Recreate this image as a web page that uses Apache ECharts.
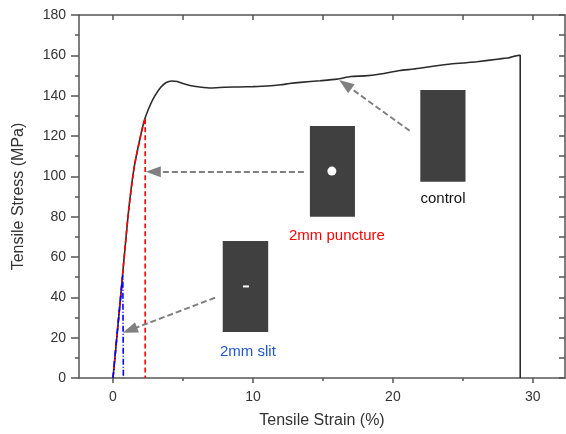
<!DOCTYPE html>
<html>
<head>
<meta charset="utf-8">
<script src="https://cdn.jsdelivr.net/npm/echarts@6/dist/echarts.min.js"></script>
<style>
  html, body { margin: 0; padding: 0; background: #fff; }
  #chart { width: 566px; height: 434px; }
</style>
</head>
<body>
<div id="chart"></div>
<script>
// stress-strain curves, [strain %, stress MPa]
var control = [
  [0, 0], [0.5, 37], [1.07, 80], [1.5, 104], [2.0, 121], [2.3, 129], [2.7, 136],
  [3.0, 140], [3.4, 144], [3.8, 146.5], [4.2, 147.3], [4.6, 147], [5.0, 146],
  [5.5, 145], [6.2, 144.3], [7.0, 143.8], [8.0, 144.2], [9.0, 144.3], [10, 144.5],
  [11, 144.8], [12, 145.4], [12.6, 146], [13.4, 146.6], [14.8, 147.4], [16, 148.2],
  [17, 149.5], [18, 149.8], [19, 150.6], [20.5, 152.5], [21.5, 153.2], [22.5, 154.2],
  [24, 155.6], [25, 156.2], [26, 156.8], [27.6, 158.2], [28.3, 158.8], [29.0, 160],
  [29.1, 160], [29.1, 0]
];
var puncture = [
  [0, 0], [0.5, 37], [1.07, 80], [1.5, 104], [2.0, 121], [2.3, 129], [2.3, 0]
];
var slit = [
  [0, 0], [0.35, 26], [0.7, 51], [0.74, 51], [0.74, 0]
];

var xMajor = [0, 10, 20, 30];
var xMinor = [5, 15, 25];
var yMajor = [0, 20, 40, 60, 80, 100, 120, 140, 160, 180];
var yMinor = [10, 30, 50, 70, 90, 110, 130, 150, 170];

// specimen sketches and arrows (data coords)
var boxes = [
  [[21.96, 142.8], [25.19, 97.3]],
  [[14.07, 124.9], [17.29, 80.0]],
  [[7.84, 67.9], [11.09, 22.8]]
];
var arrows = [
  [[21.2, 122.6], [16.6, 145.6]],
  [[13.64, 102.3], [2.88, 102.3]],
  [[7.29, 39.8], [1.21, 23.8]]
];
var labels = [
  { name: 'control', at: [23.58, 88.6], color: '#111111' },
  { name: '2mm puncture', at: [16.0, 70.4], color: '#ff0000' },
  { name: '2mm slit', at: [9.64, 13.1], color: '#1f55cc' }
];
var hole = [15.64, 102.6];
var cut = [9.5, 45.4];

var axisColor = '#555555';
var labelColor = '#333333';
var font = 'Liberation Sans, Arial, sans-serif';

function hidden() {
  return { show: false };
}
function axisLine() {
  return { onZero: false, lineStyle: { color: axisColor, width: 1.5 } };
}

var chart = echarts.init(document.getElementById('chart'));
var option = {
  animation: false,
  grid: { left: 79, right: 1, top: 15, bottom: 56 },
  xAxis: [
    {
      type: 'value', position: 'bottom', min: -2.43, max: 32.3,
      name: 'Tensile Strain (%)', nameLocation: 'middle', nameGap: 35,
      nameTextStyle: { fontFamily: font, fontSize: 16, color: labelColor },
      axisLine: axisLine(),
      axisTick: { customValues: xMajor, length: 5, lineStyle: { color: axisColor, width: 1.5 } },
      axisLabel: { customValues: xMajor, margin: 12, fontFamily: font, fontSize: 14, color: labelColor },
      splitLine: hidden()
    },
    {
      type: 'value', position: 'bottom', min: -2.43, max: 32.3,
      axisLine: { show: false, onZero: false },
      axisTick: { customValues: xMinor, length: 3, lineStyle: { color: axisColor, width: 1.5 } },
      axisLabel: hidden(), splitLine: hidden()
    },
    {
      type: 'value', position: 'top', min: -2.43, max: 32.3,
      axisLine: axisLine(),
      axisTick: { inside: true, customValues: xMajor.concat(xMinor), length: 5, lineStyle: { color: axisColor, width: 1.5 } },
      axisLabel: hidden(), splitLine: hidden()
    }
  ],
  yAxis: [
    {
      type: 'value', position: 'left', min: 0, max: 180, interval: 20,
      name: 'Tensile Stress (MPa)', nameLocation: 'middle', nameGap: 52,
      nameTextStyle: { fontFamily: font, fontSize: 16, color: labelColor },
      axisLine: axisLine(),
      axisTick: { customValues: yMajor, length: 8, lineStyle: { color: axisColor, width: 1.5 } },
      axisLabel: { customValues: yMajor, margin: 13, fontFamily: font, fontSize: 14, color: labelColor },
      splitLine: hidden()
    },
    {
      type: 'value', position: 'left', min: 0, max: 180,
      axisLine: { show: false, onZero: false },
      axisTick: { customValues: yMinor, length: 4, lineStyle: { color: axisColor, width: 1.5 } },
      axisLabel: hidden(), splitLine: hidden()
    },
    {
      type: 'value', position: 'right', min: 0, max: 180,
      axisLine: axisLine(),
      axisTick: { inside: true, customValues: yMajor.concat(yMinor), length: 6, lineStyle: { color: axisColor, width: 1.5 } },
      axisLabel: hidden(), splitLine: hidden()
    }
  ],
  series: [
    {
      name: 'control', type: 'line', data: control, showSymbol: false, smooth: 0.2,
      lineStyle: { color: '#2b2b2b', width: 1.6 },
      markArea: {
        silent: true,
        itemStyle: { color: '#404040' },
        data: boxes.map(function (b) { return [{ coord: b[0] }, { coord: b[1] }]; })
      },
      markLine: {
        silent: true,
        symbol: ['none', 'triangle'],
        symbolSize: [11, 15],
        label: hidden(),
        lineStyle: { color: '#808080', width: 2, type: [6, 3] },
        data: arrows.map(function (a) { return [{ coord: a[0] }, { coord: a[1] }]; })
      }
    },
    {
      name: '2mm puncture', type: 'line', data: puncture, showSymbol: false, smooth: 0.2,
      lineStyle: { color: '#ff0000', width: 1.6, type: [5, 3] }
    },
    {
      name: '2mm slit', type: 'line', data: slit, showSymbol: false,
      lineStyle: { color: '#0000ff', width: 1.6, type: [6, 2, 1, 2] },
      markPoint: {
        silent: true,
        data: [
          { coord: hole, symbol: 'circle', symbolSize: 9, itemStyle: { color: '#ffffff' }, label: hidden() },
          { coord: cut, symbol: 'rect', symbolSize: [6, 2], itemStyle: { color: '#ffffff' }, label: hidden() }
        ].concat(labels.map(function (l) {
          return {
            coord: l.at, symbol: 'rect', symbolSize: 0,
            label: { show: true, position: 'inside', formatter: l.name, color: l.color, fontFamily: font, fontSize: 15 }
          };
        }))
      }
    }
  ]
};
chart.setOption(option);
</script>
</body>
</html>
